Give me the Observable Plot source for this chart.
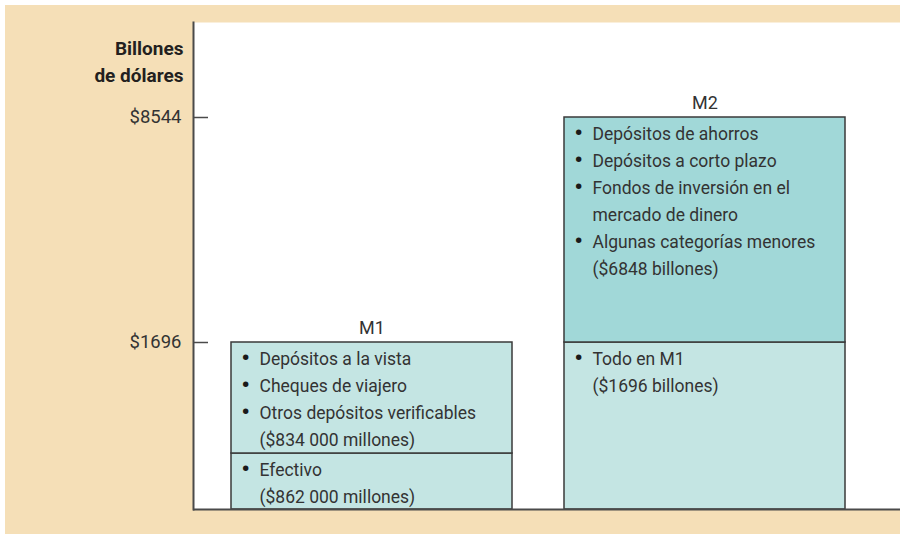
<!DOCTYPE html>
<html><head><meta charset="utf-8">
<script src="https://cdn.jsdelivr.net/npm/d3@7"></script>
<script src="https://cdn.jsdelivr.net/npm/@observablehq/plot@0.6"></script>
<style>
body{margin:0;background:#fff;}
#wrap{position:relative;width:900px;height:534px;overflow:hidden;}
#bg{position:absolute;left:5px;top:5px;width:895px;height:529px;background:#f5dfb7;}
#chart{position:absolute;left:0;top:0;}
#chart svg{background:transparent;}
</style></head><body>
<div id="wrap"><div id="bg"></div><div id="chart"></div></div>
<script>
// ---- data ----
const aggregates = ["M1", "M1", "M2", "M2"];
const segmentBase = [0, 862, 0, 1696];
const segmentTop = [862, 1696, 1696, 8544];
const segmentShade = ["light", "light", "light", "dark"];
const segmentLines = [
  ["Efectivo", "($862 000 millones)"],
  ["Depósitos a la vista", "Cheques de viajero", "Otros depósitos verificables", "($834 000 millones)"],
  ["Todo en M1", "($1696 billones)"],
  ["Depósitos de ahorros", "Depósitos a corto plazo", "Fondos de inversión en el", "mercado de dinero", "Algunas categorías menores", "($6848 billones)"]
];
const segmentBullets = [[1, 0], [1, 1, 1, 0], [1, 0], [1, 1, 1, 0, 1, 0]];
const totalNames = ["M1", "M2"];
const totalValues = [1696, 8544];
const yTicks = [1696, 8544];
const axisTitle = "Billones\nde dólares";

const segments = aggregates.map((a, i) => ({
  agg: a, base: segmentBase[i], top: segmentTop[i], shade: segmentShade[i],
  text: segmentLines[i].join("\n"),
  bullets: segmentBullets[i].map(b => b ? "•" : "").join("\n")
}));
const totals = totalNames.map((n, i) => ({agg: n, value: totalValues[i]}));

const W = 900, H = 534, ML = 193, MT = 22, MR = 0, MB = 25;
const half = 140.5;
const FONT = "Roboto, sans-serif";
const FS = 17.5, BS = 22, LINE = 27;

const chart = Plot.plot({
  width: W, height: H,
  marginLeft: ML, marginTop: MT, marginRight: MR, marginBottom: MB,
  style: {fontFamily: FONT, fontSize: FS + "px", color: "#333", background: "transparent"},
  x: {type: "band", domain: totalNames, range: [179, 897], padding: 0.156, axis: null},
  y: {type: "linear", domain: [0, 862, 1696, 8544], range: [509, 453, 342, 117], axis: null},
  color: {domain: ["light", "dark"], range: ["#c4e5e3", "#a1d8d8"]},
  marks: [
    Plot.frame({fill: "white", stroke: "none"}),
    Plot.barY(segments, {x: "agg", y1: "base", y2: "top", fill: "shade", stroke: "#3a3a3a", strokeWidth: 1.5}),
    Plot.frame({anchor: "left", stroke: "#4a4a4a", strokeWidth: 2}),
    Plot.ruleY([0], {stroke: "#4a4a4a", strokeWidth: 2}),
    Plot.tickY(yTicks, {y: d => d, stroke: "#4a4a4a", strokeWidth: 1.5, insetRight: W - ML - MR - 15}),
    Plot.axisY(yTicks, {tickSize: 0, tickPadding: 12, tickFormat: d => "$" + d, fill: "#333", fontSize: 18.5, label: null}),
    Plot.text([axisTitle], {frameAnchor: "top-left", textAnchor: "end", lineAnchor: "top", dx: -10, dy: 13, fontWeight: "bold", fill: "#231f20", lineHeight: 1.42, fontSize: 19}),
    Plot.text(totals, {x: "agg", y: "value", text: "agg", lineAnchor: "bottom", dy: -9, fill: "#333", fontSize: 18}),
    Plot.text(segments, {x: "agg", y: "top", text: "bullets", textAnchor: "start", lineAnchor: "top", dx: -half + 10, dy: 3, lineHeight: LINE / BS, fill: "#1a1a1a", fontSize: BS, fontWeight: 900}),
    Plot.text(segments, {x: "agg", y: "top", text: "text", textAnchor: "start", lineAnchor: "top", dx: -half + 28, dy: 3, lineHeight: LINE / FS, fill: "#333", fontSize: FS})
  ]
});
document.getElementById("chart").appendChild(chart);
</script>
</body></html>
